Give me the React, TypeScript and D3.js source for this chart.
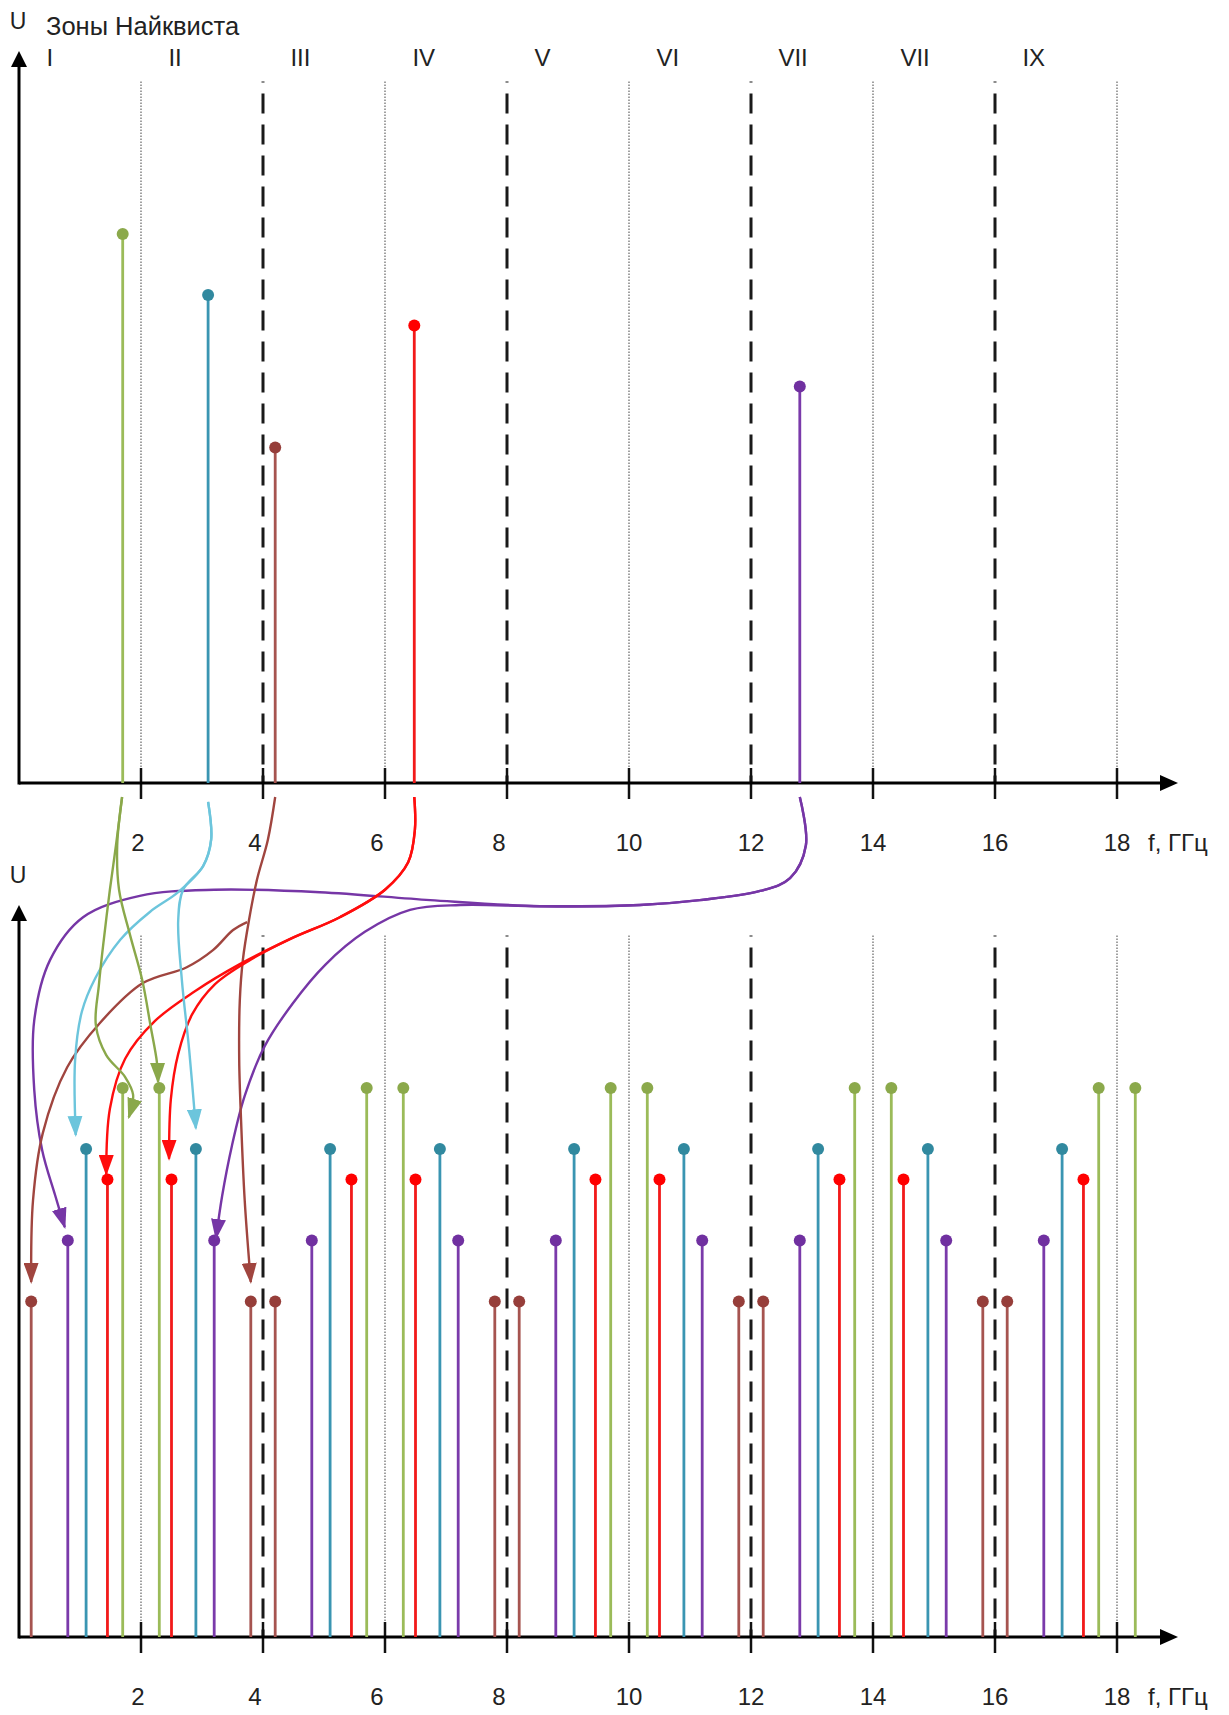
import React from "react";
import * as d3 from "d3";

const W = 1229;
const H = 1715;

// ---- data ----
const FREQ_TICKS = [2, 4, 6, 8, 10, 12, 14, 16, 18];
const TICK_LABELS = ["2", "4", "6", "8", "10", "12", "14", "16", "18"];
const ZONE_NAMES = ["I", "II", "III", "IV", "V", "VI", "VII", "VII", "IX"];
const ZONE_WIDTH = 2; // GHz
const DOTTED_AT = [2, 6, 10, 14, 18];
const DASHED_AT = [4, 8, 12, 16];

const SERIES = ["green", "teal", "brown", "red", "purple"];
const INPUT_FREQ = [1.7, 3.1, 4.2, 6.48, 12.8];
const INPUT_AMP = [9, 8, 5.5, 7.5, 6.5];

const ALIAS_GREEN = [1.7, 2.3, 5.7, 6.3, 9.7, 10.3, 13.7, 14.3, 17.7, 18.3];
const ALIAS_TEAL = [1.1, 2.9, 5.1, 6.9, 9.1, 10.9, 13.1, 14.9, 17.1];
const ALIAS_RED = [1.45, 2.5, 5.45, 6.5, 9.45, 10.5, 13.45, 14.5, 17.45];
const ALIAS_PURPLE = [0.8, 3.2, 4.8, 7.2, 8.8, 11.2, 12.8, 15.2, 16.8];
const ALIAS_BROWN = [0.2, 3.8, 4.2, 7.8, 8.2, 11.8, 12.2, 15.8, 16.2];

// mapping curves, in (f GHz, U) of the lower panel
const GREEN_A = [[1.69, 13.77], [1.59, 12.98], [1.49, 12.25], [1.39, 11.43], [1.31, 10.69], [1.26, 10.03], [1.43, 9.54], [1.74, 9.18], [1.87, 8.89], [1.8, 8.52]];
const GREEN_B = [[1.69, 13.77], [1.61, 12.98], [1.64, 12.25], [1.82, 11.51], [2.02, 10.77], [2.16, 10.0], [2.26, 9.43], [2.28, 9.1]];
const TEAL_A = [[3.1, 13.69], [3.15, 13.07], [3.02, 12.64], [2.61, 12.21], [2.15, 11.89], [1.66, 11.43], [1.25, 10.8], [1.03, 10.25], [0.92, 9.46], [0.93, 8.23]];
const TEAL_B = [[3.1, 13.69], [3.15, 13.07], [3.02, 12.64], [2.69, 12.25], [2.61, 11.75], [2.67, 10.77], [2.79, 9.62], [2.9, 8.34]];
const BROWN_A = [[4.2, 13.77], [4.08, 13.07], [3.9, 12.41], [3.77, 11.75], [3.67, 11.1], [3.62, 10.44], [3.61, 9.46], [3.64, 8.48], [3.7, 7.16], [3.8, 5.82]];
const BROWN_B = [[3.74, 11.72], [3.51, 11.59], [3.18, 11.26], [2.75, 10.98], [2.03, 10.72], [1.33, 10.07], [0.79, 9.34], [0.39, 8.26], [0.23, 7.16], [0.2, 5.82]];
const RED_A = [[6.48, 13.77], [6.49, 13.23], [6.38, 12.7], [6.0, 12.25], [5.26, 11.8], [4.44, 11.44], [3.62, 11.03], [2.89, 10.59], [2.23, 10.1], [1.74, 9.48], [1.49, 8.66], [1.43, 7.59]];
const RED_B = [[6.48, 13.77], [6.49, 13.23], [6.38, 12.7], [6.0, 12.25], [5.26, 11.8], [4.44, 11.44], [3.79, 11.1], [3.21, 10.7], [2.84, 10.21], [2.61, 9.56], [2.49, 8.82], [2.46, 7.84]];
const PURPLE_A = [[12.8, 13.77], [12.9, 12.98], [12.64, 12.44], [12.15, 12.23], [11.16, 12.08], [10.18, 12.0], [8.54, 11.98], [6.74, 12.08], [4.93, 12.21], [3.2, 12.25], [1.98, 12.15], [1.05, 11.8], [0.51, 11.1], [0.25, 10.11], [0.25, 8.97], [0.38, 7.98], [0.59, 7.25], [0.75, 6.72]];
const PURPLE_B = [[12.8, 13.77], [12.9, 12.98], [12.64, 12.44], [12.15, 12.23], [11.16, 12.08], [10.18, 12.0], [8.54, 11.98], [7.23, 12.0], [6.41, 11.92], [5.67, 11.56], [5.02, 11.02], [4.49, 10.39], [4.03, 9.69], [3.7, 8.87], [3.49, 8.05], [3.33, 7.23], [3.23, 6.54]];

// ---- styles ----
const COLORS: Record<string, { stem: string; dot: string; arrow: string }> = {
  green: { stem: "#9BBB59", dot: "#8BA94B", arrow: "#8AA84A" },
  teal: { stem: "#3A95B2", dot: "#31899F", arrow: "#6CC5DC" },
  brown: { stem: "#A65450", dot: "#963E3A", arrow: "#A0453F" },
  red: { stem: "#F21A1A", dot: "#FF0000", arrow: "#FF0D0D" },
  purple: { stem: "#7A3AAA", dot: "#7030A0", arrow: "#7636A6" },
};
const FONT = "'Liberation Sans', Arial, Helvetica, sans-serif";
const TEXT = "#222";

export default function App() {
  const x = d3.scaleLinear().domain([0, 19]).range([19, 1178]);
  const yTop = d3.scaleLinear().domain([0, 12]).range([783, 51]);
  const yBot = d3.scaleLinear().domain([0, 12]).range([1637, 905]);
  const zoneTop = 11.5;

  const aliases = [
    { s: "brown", f: ALIAS_BROWN, u: INPUT_AMP[2] },
    { s: "purple", f: ALIAS_PURPLE, u: INPUT_AMP[4] },
    { s: "teal", f: ALIAS_TEAL, u: INPUT_AMP[1] },
    { s: "red", f: ALIAS_RED, u: INPUT_AMP[3] },
    { s: "green", f: ALIAS_GREEN, u: INPUT_AMP[0] },
  ];
  const curves = [
    { s: "purple", pts: PURPLE_A },
    { s: "purple", pts: PURPLE_B },
    { s: "brown", pts: BROWN_A },
    { s: "brown", pts: BROWN_B },
    { s: "red", pts: RED_A },
    { s: "red", pts: RED_B },
    { s: "teal", pts: TEAL_A },
    { s: "teal", pts: TEAL_B },
    { s: "green", pts: GREEN_A },
    { s: "green", pts: GREEN_B },
  ];
  const line = d3
    .line<number[]>()
    .x((d) => x(d[0]))
    .y((d) => yBot(d[1]))
    .curve(d3.curveCatmullRom.alpha(0.5));

  const panel = (y: d3.ScaleLinear<number, number>, key: string, showZones: boolean) => {
    const y0 = y(0);
    const yTopAxis = y(12);
    const fMax = x.domain()[1];
    return (
      <g key={key}>
        {DOTTED_AT.map((f) => (
          <line key={"dt" + f} x1={x(f)} x2={x(f)} y1={y(zoneTop)} y2={y0} stroke="#8a8a8a" strokeWidth={1.6} strokeDasharray="1.5,1.5" />
        ))}
        {DASHED_AT.map((f) => (
          <line key={"ds" + f} x1={x(f)} x2={x(f)} y1={y(zoneTop)} y2={y0} stroke="#1a1a1a" strokeWidth={3} strokeDasharray="20,11" strokeDashoffset={19} />
        ))}
        {FREQ_TICKS.map((f, i) => (
          <g key={"t" + f}>
            <line x1={x(f)} x2={x(f)} y1={y0 - 15} y2={y0 + 16} stroke="#111" strokeWidth={2.5} />
            <text x={x(f) + (TICK_LABELS[i].length === 1 ? (f === 2 ? -3 : -8) : 0)} y={y0 + 68} textAnchor="middle" fontFamily={FONT} fontSize={24} fill={TEXT}>
              {TICK_LABELS[i]}
            </text>
          </g>
        ))}
        <text x={x(fMax) - 30} y={y0 + 68} fontFamily={FONT} fontSize={24} fill={TEXT}>
          f, ГГц
        </text>
        {/* axes */}
        <line x1={x(0)} x2={x(fMax) - 14} y1={y0} y2={y0} stroke="#000" strokeWidth={3} />
        <path d={`M${x(fMax)},${y0} L${x(fMax) - 18},${y0 - 8} L${x(fMax) - 18},${y0 + 8} Z`} fill="#000" />
        <line x1={x(0)} x2={x(0)} y1={y0 + 1.5} y2={yTopAxis + 12} stroke="#000" strokeWidth={3} />
        <path d={`M${x(0)},${yTopAxis} L${x(0) - 8},${yTopAxis + 16} L${x(0) + 8},${yTopAxis + 16} Z`} fill="#000" />
        <text x={18} y={yTopAxis - 22} textAnchor="middle" fontFamily={FONT} fontSize={23} fill={TEXT}>
          U
        </text>
        {showZones &&
          ZONE_NAMES.map((z, k) => (
            <text key={"z" + k} x={x(ZONE_WIDTH * k + 0.45)} y={yTopAxis + 15} fontFamily={FONT} fontSize={24} fill={TEXT}>
              {z}
            </text>
          ))}
      </g>
    );
  };

  const stem = (f: number, u: number, s: string, y: d3.ScaleLinear<number, number>, key: string) => (
    <g key={key}>
      <line x1={x(f)} x2={x(f)} y1={y(0)} y2={y(u)} stroke={COLORS[s].stem} strokeWidth={2.8} />
      <circle cx={x(f)} cy={y(u)} r={6} fill={COLORS[s].dot} />
    </g>
  );

  return (
    <svg width={W} height={H} viewBox={`0 0 ${W} ${H}`} style={{ position: "absolute", left: 0, top: 0, background: "#fff" }}>
      <defs>
        {SERIES.map((s) => (
          <marker key={s} id={"arr-" + s} markerUnits="userSpaceOnUse" markerWidth={21} markerHeight={15} viewBox="0 0 21 15" refX={19} refY={7.5} orient="auto">
            <path d="M0,0 L21,7.5 L0,15 Z" fill={COLORS[s].arrow} />
          </marker>
        ))}
      </defs>
      <rect x={0} y={0} width={W} height={H} fill="#fff" />
      <text x={46} y={35} fontFamily={FONT} fontSize={25.5} fill={TEXT}>
        Зоны Найквиста
      </text>
      {panel(yTop, "top", true)}
      {panel(yBot, "bot", false)}
      {INPUT_FREQ.map((f, i) => stem(f, INPUT_AMP[i], SERIES[i], yTop, "in" + i))}
      {aliases.map((a) => a.f.map((f, j) => stem(f, a.u, a.s, yBot, a.s + j)))}
      {curves.map((c, i) => (
        <path key={"c" + i} d={line(c.pts) || ""} fill="none" stroke={COLORS[c.s].arrow} strokeWidth={2.4} markerEnd={`url(#arr-${c.s})`} />
      ))}
    </svg>
  );
}
